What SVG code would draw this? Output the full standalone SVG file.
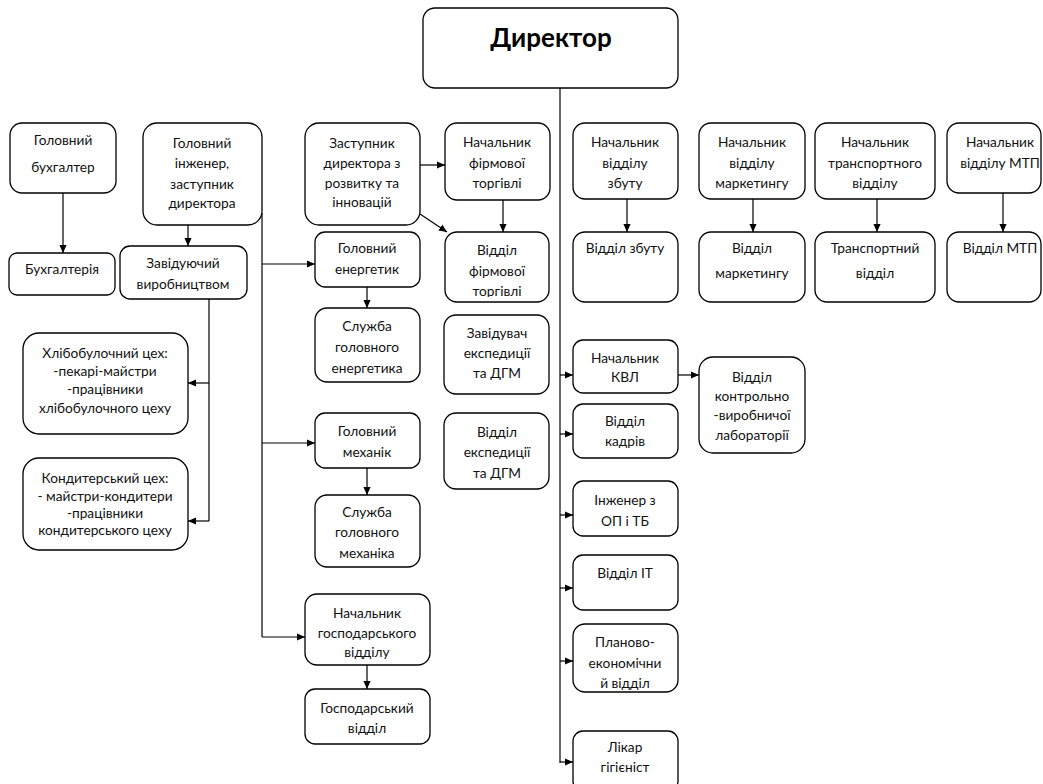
<svg xmlns="http://www.w3.org/2000/svg" width="1043" height="784" viewBox="0 0 1043 784">
<defs>
<style>
.b{fill:#fff;stroke:#000;stroke-width:1.3}
.t{font-family:Lato,"Open Sans","Liberation Sans",sans-serif;font-size:13.7px;text-anchor:middle;fill:#111}
.h{font-family:Lato,"Open Sans","Liberation Sans",sans-serif;font-size:26px;font-weight:bold;text-anchor:middle;fill:#000}
.c{fill:none;stroke:#000;stroke-width:1.2}
.a{marker-end:url(#ah)}
</style>
<marker id="ah" viewBox="0 0 10 10" refX="10" refY="5" markerWidth="8" markerHeight="8" orient="auto" markerUnits="userSpaceOnUse">
<path d="M0,0.5 L10,5 L0,9.5 z" fill="#000"/>
</marker>
<clipPath id="clipF"><rect x="445" y="232" width="105" height="65"/></clipPath>
</defs>
<rect width="1043" height="784" fill="#fff"/>

<g id="connectors">
<path class="c" d="M560,88 V763"/>
<path class="c a" d="M560,375 H573"/>
<path class="c a" d="M560,434 H573"/>
<path class="c a" d="M560,515 H573"/>
<path class="c a" d="M560,588 H573"/>
<path class="c a" d="M560,661 H573"/>
<path class="c a" d="M560,762 H573"/>
<path class="c a" d="M678,375 H699"/>
<path class="c a" d="M63,193 V253"/>
<path class="c a" d="M188,225 V246"/>
<path class="c" d="M262,213 V637"/>
<path class="c a" d="M262,264 H315"/>
<path class="c a" d="M262,443 H315"/>
<path class="c a" d="M262,637 H305"/>
<path class="c" d="M209,299 V521"/>
<path class="c a" d="M209,383 H188"/>
<path class="c a" d="M209,521 H188"/>
<path class="c a" d="M420,165 H445"/>
<path class="c a" d="M420,214 L447,232"/>
<path class="c a" d="M503,200 V232"/>
<path class="c a" d="M367,287 V308"/>
<path class="c a" d="M367,468 V495"/>
<path class="c a" d="M367,665 V689"/>
<path class="c a" d="M627,199 V232"/>
<path class="c a" d="M753,199 V232"/>
<path class="c a" d="M877,199 V232"/>
<path class="c a" d="M1003,193 V232"/>
</g>

<g id="director"><rect class="b" x="423" y="8" width="255" height="80" rx="12"/><text class="h" x="551" y="47">Директор</text></g>

<g id="gol-buh"><rect class="b" x="10" y="123" width="106" height="70" rx="12"/><text class="t" x="63" y="144.5">Головний</text><text class="t" x="63" y="171.5">бухгалтер</text></g>
<g id="buh"><rect class="b" x="9" y="253" width="106" height="42" rx="8"/><text class="t" x="62" y="273.5">Бухгалтерія</text></g>
<g id="gol-inzh"><rect class="b" x="143" y="123" width="119" height="102" rx="14"/><text class="t" x="202" y="147.5">Головний</text><text class="t" x="202" y="167.5">інженер,</text><text class="t" x="202" y="188.5">заступник</text><text class="t" x="202" y="207.5">директора</text></g>
<g id="zav-vyr"><rect class="b" x="120" y="246" width="127" height="53" rx="10"/><text class="t" x="183" y="267.5">Завідуючий</text><text class="t" x="183" y="288.5">виробництвом</text></g>
<g id="khlib"><rect class="b" x="23" y="333" width="165" height="101" rx="16"/><text class="t" x="105" y="357.5">Хлібобулочний цех:</text><text class="t" x="105" y="375.5">-пекарі-майстри</text><text class="t" x="105" y="393.5">-працівники</text><text class="t" x="105" y="412.5">хлібобулочного цеху</text></g>
<g id="kond"><rect class="b" x="23" y="458" width="165" height="92" rx="16"/><text class="t" x="105" y="482.5">Кондитерський цех:</text><text class="t" x="105" y="500.5">- майстри-кондитери</text><text class="t" x="105" y="517.5">-працівники</text><text class="t" x="105" y="534.5">кондитерського цеху</text></g>

<g id="zast"><rect class="b" x="305" y="123" width="115" height="102" rx="14"/><text class="t" x="362" y="147.5">Заступник</text><text class="t" x="362" y="167.5">директора з</text><text class="t" x="362" y="187.5">розвитку та</text><text class="t" x="362" y="206.5">інновацій</text></g>
<g id="nach-firm"><rect class="b" x="445" y="123" width="105" height="77" rx="12"/><text class="t" x="497" y="146.5">Начальник</text><text class="t" x="497" y="167.5">фірмової</text><text class="t" x="497" y="187.5">торгівлі</text></g>
<g id="viddil-firm"><rect class="b" x="445" y="232" width="104" height="70" rx="12"/><g clip-path="url(#clipF)"><text class="t" x="497" y="254.5">Відділ</text><text class="t" x="497" y="275.5">фірмової</text><text class="t" x="497" y="295.5">торгівлі</text></g></g>
<g id="gol-energ"><rect class="b" x="315" y="232" width="105" height="55" rx="10"/><text class="t" x="367" y="252.5">Головний</text><text class="t" x="367" y="273.5">енергетик</text></g>
<g id="sl-energ"><rect class="b" x="315" y="308" width="105" height="74" rx="12"/><text class="t" x="367" y="330.5">Служба</text><text class="t" x="367" y="351.5">головного</text><text class="t" x="367" y="372.5">енергетика</text></g>
<g id="gol-mekh"><rect class="b" x="315" y="413" width="105" height="55" rx="10"/><text class="t" x="367" y="435.5">Головний</text><text class="t" x="367" y="456.5">механік</text></g>
<g id="sl-mekh"><rect class="b" x="315" y="495" width="105" height="72" rx="12"/><text class="t" x="367" y="516.5">Служба</text><text class="t" x="367" y="536.5">головного</text><text class="t" x="367" y="557.5">механіка</text></g>
<g id="zav-eksp"><rect class="b" x="444" y="315" width="105" height="79" rx="12"/><text class="t" x="497" y="337.5">Завідувач</text><text class="t" x="497" y="357.5">експедиції</text><text class="t" x="497" y="377.5">та ДГМ</text></g>
<g id="vid-eksp"><rect class="b" x="444" y="413" width="105" height="76" rx="12"/><text class="t" x="497" y="436.5">Відділ</text><text class="t" x="497" y="456.5">експедиції</text><text class="t" x="497" y="477.5">та ДГМ</text></g>
<g id="nach-gosp"><rect class="b" x="305" y="594" width="125" height="71" rx="12"/><text class="t" x="367" y="617.5">Начальник</text><text class="t" x="367" y="637.5">господарського</text><text class="t" x="367" y="656.5">відділу</text></g>
<g id="gosp"><rect class="b" x="305" y="689" width="125" height="55" rx="10"/><text class="t" x="367" y="712.5">Господарський</text><text class="t" x="367" y="732.5">відділ</text></g>

<g id="nach-zbut"><rect class="b" x="573" y="123" width="105" height="76" rx="12"/><text class="t" x="625" y="146.5">Начальник</text><text class="t" x="625" y="167.5">відділу</text><text class="t" x="625" y="187.5">збуту</text></g>
<g id="zbut"><rect class="b" x="573" y="232" width="105" height="70" rx="12"/><text class="t" x="625" y="252.5">Відділ збуту</text></g>
<g id="nach-mark"><rect class="b" x="699" y="123" width="106" height="76" rx="12"/><text class="t" x="752" y="146.5">Начальник</text><text class="t" x="752" y="167.5">відділу</text><text class="t" x="752" y="187.5">маркетингу</text></g>
<g id="mark"><rect class="b" x="699" y="232" width="106" height="70" rx="12"/><text class="t" x="752" y="252.5">Відділ</text><text class="t" x="752" y="277.5">маркетингу</text></g>
<g id="nach-trans"><rect class="b" x="815" y="123" width="120" height="76" rx="12"/><text class="t" x="875" y="146.5">Начальник</text><text class="t" x="875" y="167.5">транспортного</text><text class="t" x="875" y="187.5">відділу</text></g>
<g id="trans"><rect class="b" x="815" y="232" width="120" height="70" rx="12"/><text class="t" x="875" y="252.5">Транспортний</text><text class="t" x="875" y="277.5">відділ</text></g>
<g id="nach-mtp"><rect class="b" x="947" y="123" width="94" height="70" rx="12"/><text class="t" x="1000" y="146.5">Начальник</text><text class="t" x="1000" y="167.5">відділу МТП</text></g>
<g id="mtp"><rect class="b" x="947" y="232" width="94" height="70" rx="12"/><text class="t" x="1000" y="252.5">Відділ МТП</text></g>

<g id="nach-kvl"><rect class="b" x="573" y="340" width="105" height="53" rx="10"/><text class="t" x="625" y="362.5">Начальник</text><text class="t" x="625" y="381.5">КВЛ</text></g>
<g id="kvl"><rect class="b" x="699" y="357" width="106" height="96" rx="14"/><text class="t" x="752" y="381.5">Відділ</text><text class="t" x="752" y="400.5">контрольно</text><text class="t" x="752" y="419.5">-виробничої</text><text class="t" x="752" y="439.5">лабораторії</text></g>
<g id="kadry"><rect class="b" x="573" y="404" width="105" height="54" rx="10"/><text class="t" x="625" y="425.5">Відділ</text><text class="t" x="625" y="445.5">кадрів</text></g>
<g id="ot"><rect class="b" x="573" y="481" width="105" height="55" rx="10"/><text class="t" x="625" y="504.5">Інженер з</text><text class="t" x="625" y="525.5">ОП і ТБ</text></g>
<g id="it"><rect class="b" x="573" y="555" width="105" height="55" rx="10"/><text class="t" x="625" y="577.5">Відділ ІТ</text></g>
<g id="plan"><rect class="b" x="573" y="624" width="105" height="68" rx="12"/><text class="t" x="625" y="646.5">Планово-</text><text class="t" x="625" y="667.5">економічни</text><text class="t" x="625" y="687.5">й відділ</text></g>
<g id="likar"><rect class="b" x="573" y="731" width="105" height="60" rx="10"/><text class="t" x="625" y="751.5">Лікар</text><text class="t" x="625" y="771.5">гігієніст</text></g>
</svg>
